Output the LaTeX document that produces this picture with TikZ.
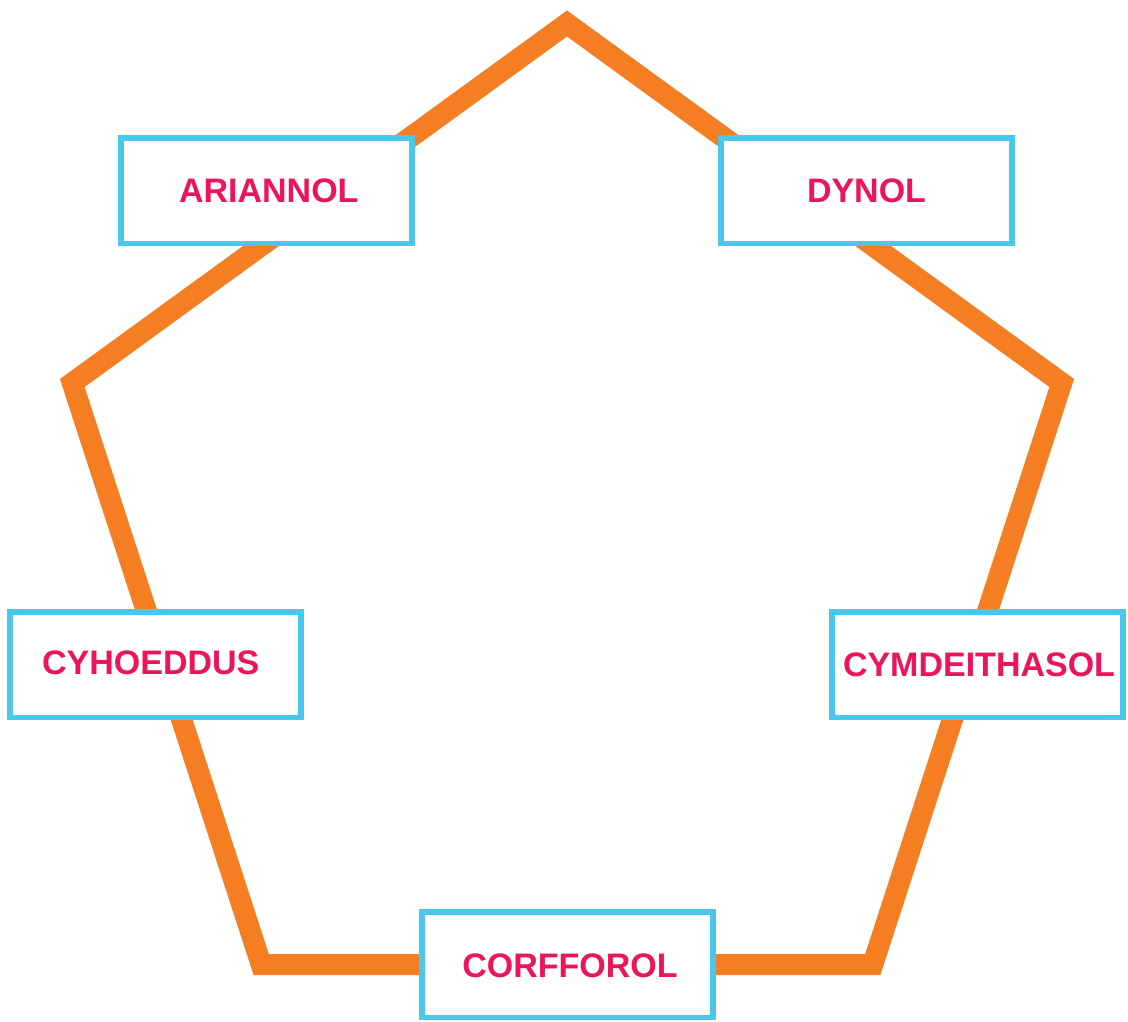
\documentclass[tikz,border=0pt]{standalone}
\usepackage{fontspec}
\setmainfont{Liberation Sans}
\definecolor{penta}{RGB}{245,125,34}
\definecolor{boxc}{RGB}{74,200,236}
\definecolor{txt}{RGB}{236,20,90}
\begin{document}
\begin{tikzpicture}[x=1pt,y=-1pt,
  box/.style={draw=boxc,line width=5.5pt,fill=white,minimum width=291pt,minimum height=105.5pt,inner sep=0pt},
  lbl/.style={text=txt,font=\fontsize{34}{40}\selectfont\bfseries,inner sep=0pt,anchor=center}]
\useasboundingbox (0,0) rectangle (1128,1021);
% pentagon vertices (regular, centre (567,543.7), R=520.2)
\coordinate (pT) at (567,23.5);
\coordinate (pR) at (1061.7,383.0);
\coordinate (pBR) at (872.8,964.5);
\coordinate (pBL) at (261.2,964.5);
\coordinate (pL) at (72.3,383.0);
\draw[penta,line width=21pt,line join=miter,miter limit=10] (pT) -- (pR) -- (pBR) -- (pBL) -- (pL) -- cycle;
% boxes
\node[box] (b1) at (266.7,190.5) {};
\node[box] (b2) at (866.5,190.5) {};
\node[box] (b3) at (155.3,664.5) {};
\node[box] (b4) at (977.5,664.5) {};
\node[box] (b5) at (567.3,964.5) {};
% labels
\node[lbl] (t1) at (268.8,190.5) {ARIANNOL};
\node[lbl] (t2) at (866.5,190.5) {DYNOL};
\node[lbl] (t3) at (150.8,662.7) {CYHOEDDUS};
\node[lbl] (t4) at (979,664.5) {CYMDEITHASOL};
\node[lbl] (t5) at (570,965.8) {CORFFOROL};
\end{tikzpicture}
\end{document}
